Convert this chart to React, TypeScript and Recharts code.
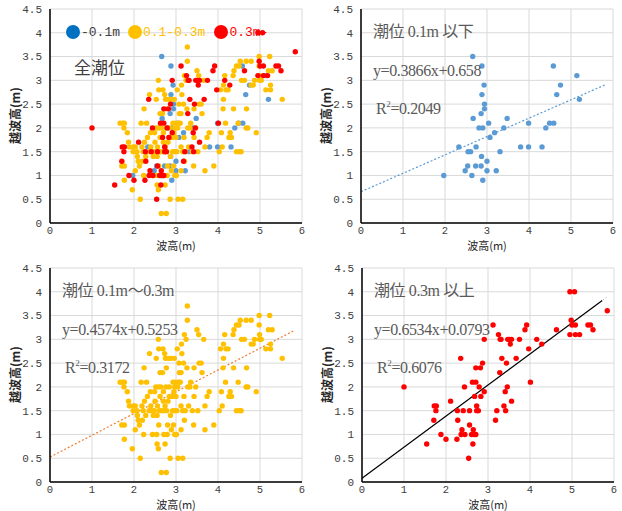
import React from 'react';
import { ScatterChart, Scatter, XAxis, YAxis, CartesianGrid, ReferenceLine } from 'recharts';

// tide <= 0.1m
const lowTide: [number, number][] = [
  [1.97, 1.0], [2.33, 1.6], [2.48, 1.1], [2.54, 1.2], [2.55, 1.5], [2.61, 1.5], [2.64, 1.0],
  [2.66, 3.5], [2.67, 2.2], [2.73, 1.2], [2.74, 1.6], [2.81, 2.0], [2.86, 1.2], [2.86, 2.3],
  [2.87, 1.4], [2.88, 3.3], [2.88, 2.7], [2.9, 0.9], [2.9, 2.0], [2.93, 2.9], [2.94, 2.5],
  [2.94, 2.4], [3.0, 1.3], [3.0, 1.1], [3.04, 2.1], [3.07, 1.8], [3.18, 1.9], [3.22, 1.1],
  [3.31, 1.5], [3.4, 2.0], [3.48, 2.2], [3.8, 1.6], [3.99, 1.6], [3.99, 2.1], [4.31, 1.6],
  [4.4, 2.0], [4.49, 2.1], [4.58, 3.3], [4.59, 2.1], [4.66, 2.7], [4.75, 2.9], [5.14, 3.1],
  [5.2, 2.6],
];

// tide 0.1m - 0.3m
const midTide: [number, number][] = [
  [1.67, 2.1], [1.73, 2.1], [1.77, 2.1], [1.76, 2.0], [1.71, 1.2], [1.77, 1.2], [1.77, 0.9],
  [1.84, 1.9], [1.87, 1.7], [1.89, 1.6], [1.96, 0.7], [1.98, 1.6], [1.98, 1.5], [2.03, 1.6],
  [2.03, 1.1], [2.07, 1.5], [2.08, 1.4], [2.1, 1.3], [2.13, 1.2], [2.15, 0.5], [2.17, 2.1],
  [2.19, 1.6], [2.2, 1.3], [2.22, 1.5], [2.24, 2.4], [2.23, 1.0], [2.25, 1.7], [2.28, 1.4],
  [2.3, 2.1], [2.32, 1.8], [2.36, 1.5], [2.37, 2.7], [2.39, 1.9], [2.4, 1.6], [2.42, 1.5],
  [2.44, 1.0], [2.46, 1.4], [2.48, 1.5], [2.49, 1.9], [2.5, 1.7], [2.52, 2.0], [2.53, 2.6],
  [2.54, 1.0], [2.55, 0.8], [2.55, 1.4], [2.56, 1.6], [2.58, 0.7], [2.58, 2.0], [2.58, 3.0],
  [2.59, 2.8], [2.59, 1.2], [2.6, 1.5], [2.62, 1.8], [2.62, 2.3], [2.64, 2.0], [2.65, 0.2],
  [2.66, 1.5], [2.68, 2.3], [2.69, 2.8], [2.7, 1.7], [2.7, 1.9], [2.71, 1.0], [2.72, 1.5],
  [2.73, 2.7], [2.74, 1.6], [2.74, 0.8], [2.75, 2.6], [2.76, 2.0], [2.77, 0.2], [2.77, 2.4],
  [2.78, 1.5], [2.79, 1.0], [2.8, 1.2], [2.81, 1.7], [2.82, 2.6], [2.84, 1.8], [2.84, 2.0],
  [2.86, 0.5], [2.87, 1.4], [2.88, 2.6], [2.89, 1.1], [2.91, 1.8], [2.92, 1.5], [2.93, 2.1],
  [2.94, 1.2], [2.95, 1.9], [2.96, 2.6], [2.97, 1.5], [2.97, 1.0], [2.97, 2.0], [2.99, 2.1],
  [3.0, 1.8], [3.01, 1.0], [3.02, 1.5], [3.03, 2.8], [3.04, 2.0], [3.05, 0.5], [3.06, 2.1],
  [3.07, 2.5], [3.08, 2.3], [3.1, 2.1], [3.12, 1.1], [3.12, 1.6], [3.12, 2.3], [3.13, 2.9],
  [3.14, 2.7], [3.16, 0.5], [3.16, 1.5], [3.18, 2.5], [3.19, 1.8], [3.2, 3.1], [3.2, 1.3],
  [3.22, 1.5], [3.24, 3.0], [3.26, 2.4], [3.27, 3.4], [3.27, 3.7], [3.28, 2.0], [3.3, 1.6],
  [3.33, 2.0], [3.35, 2.1], [3.39, 1.5], [3.42, 1.2], [3.43, 2.4], [3.43, 1.8], [3.47, 2.0],
  [3.5, 3.2], [3.54, 3.1], [3.52, 1.5], [3.55, 2.5], [3.6, 2.5], [3.62, 2.3], [3.66, 3.0],
  [3.69, 1.6], [3.69, 1.1], [3.74, 1.8], [3.79, 1.9], [3.9, 1.2], [4.03, 1.5], [4.06, 2.8],
  [4.08, 1.9], [4.1, 1.6], [4.12, 2.4], [4.13, 2.6], [4.13, 2.9], [4.16, 3.1], [4.18, 2.1],
  [4.19, 2.8], [4.24, 2.8], [4.26, 1.8], [4.29, 1.9], [4.32, 1.8], [4.36, 3.1], [4.37, 2.4],
  [4.38, 3.2], [4.44, 1.5], [4.44, 3.3], [4.48, 2.1], [4.5, 3.3], [4.51, 1.5], [4.53, 3.4],
  [4.55, 1.5], [4.56, 3.0], [4.63, 3.0], [4.67, 3.4], [4.67, 2.0], [4.68, 2.4], [4.71, 2.0],
  [4.79, 3.4], [4.79, 2.9], [4.84, 2.9], [4.87, 3.0], [4.91, 1.9], [4.99, 3.0], [4.99, 3.1],
  [4.98, 3.5], [4.98, 3.3], [5.03, 3.0], [5.14, 2.8], [5.2, 3.2], [5.23, 3.5], [5.25, 2.9],
  [5.25, 2.8], [5.29, 3.2], [5.53, 2.6],
];

// tide >= 0.3m
const highTide: [number, number][] = [
  [1.0, 2.0], [1.54, 0.8], [1.71, 1.3], [1.72, 1.6], [1.77, 1.6], [1.76, 1.5], [1.88, 1.0],
  [2.0, 0.9], [2.11, 1.7], [2.26, 0.9], [2.27, 1.5], [2.28, 1.3], [2.35, 2.6], [2.36, 1.0],
  [2.38, 1.1], [2.41, 1.5], [2.44, 2.0], [2.45, 1.0], [2.54, 0.5], [2.56, 1.2], [2.56, 1.5],
  [2.61, 1.0], [2.63, 2.1], [2.64, 0.8], [2.65, 1.1], [2.67, 1.0], [2.68, 1.8], [2.71, 2.1],
  [2.71, 1.0], [2.71, 2.4], [2.73, 1.6], [2.73, 1.5], [2.77, 1.5], [2.79, 2.0], [2.82, 2.4],
  [2.83, 1.8], [2.87, 2.5], [2.91, 3.0], [2.91, 1.9], [3.12, 3.3], [3.18, 1.3], [3.21, 1.5],
  [3.25, 3.1], [3.28, 2.3], [3.29, 3.0], [3.31, 3.0], [3.33, 2.6], [3.38, 1.6], [3.41, 1.9],
  [3.42, 1.5], [3.44, 2.5], [3.46, 2.0], [3.47, 3.0], [3.51, 3.0], [3.53, 2.9], [3.56, 3.0],
  [3.56, 1.7], [3.67, 2.6], [3.75, 3.0], [3.88, 3.2], [3.92, 3.3], [3.97, 2.8], [4.01, 2.1],
  [4.16, 3.0], [4.28, 2.9], [4.63, 3.2], [4.95, 4.0], [4.95, 3.1], [4.98, 3.4], [5.0, 3.3],
  [5.06, 4.0], [5.08, 3.1], [5.08, 3.3], [5.18, 3.1], [5.38, 3.3], [5.44, 3.3], [5.5, 3.2],
  [5.84, 3.6],
];

const xTicks = [0, 1, 2, 3, 4, 5, 6];
const yTicks = [0, 0.5, 1, 1.5, 2, 2.5, 3, 3.5, 4, 4.5];

const lowFit = { slope: 0.3866, intercept: 0.658, end: 5.83 };
const midFit = { slope: 0.4574, intercept: 0.5253, end: 5.82 };
const highFit = { slope: 0.6534, intercept: 0.0793, end: 5.85, solidEnd: 5.72 };

const BLUE = '#5B9BD5';
const YELLOW = '#FFC000';
const RED = '#FF0000';
const TEXT = '#595959';

const W = 311;
const H = 252;
const PLOT_TOP = 9;
const PLOT_BOTTOM = 223;
const PLOT_LEFT = 50;
const PLOT_RIGHT = 302;

const toPts = (arr: [number, number][]) => arr.map(([x, y]) => ({ x, y }));

const dot = (fill: string) => (props: any) => (
  <circle cx={props.cx} cy={props.cy} r={2.7} fill={fill} />
);

const fitSeg = (f: { slope: number; intercept: number }, end: number) => [
  { x: 0, y: f.intercept },
  { x: end, y: f.slope * end + f.intercept },
];

const tickStyle = { fontFamily: '"Liberation Mono", monospace', fontSize: 11, fill: '#404040' };
const xTickStyle = { ...tickStyle, fontSize: 10.5 };
const noteStyle: React.CSSProperties = {
  position: 'absolute',
  fontFamily: '"Liberation Serif", "Noto Sans CJK JP", serif',
  fontSize: 16,
  letterSpacing: -0.4,
  color: TEXT,
  whiteSpace: 'nowrap',
  lineHeight: 1,
};

function Panel({ left, top, children, overlay }: { left: number; top: number; children: React.ReactNode; overlay?: React.ReactNode }) {
  return (
    <div style={{ position: 'absolute', left, top, width: W, height: H }}>
      <ScatterChart width={W} height={H} margin={{ top: PLOT_TOP, right: W - PLOT_RIGHT, bottom: 0, left: 0 }}>
        <CartesianGrid stroke="#D9D9D9" strokeWidth={1} />
        <XAxis
          type="number"
          dataKey="x"
          domain={[0, 6]}
          ticks={xTicks}
          height={H - PLOT_BOTTOM}
          tickLine={false}
          axisLine={{ stroke: '#000', strokeWidth: 1.5 }}
          tick={xTickStyle}
          tickSize={0}
          tickMargin={4}
          interval={0}
        />
        <YAxis
          type="number"
          dataKey="y"
          domain={[0, 4.5]}
          ticks={yTicks}
          width={PLOT_LEFT}
          tickLine={false}
          axisLine={{ stroke: '#000', strokeWidth: 1.5 }}
          tick={tickStyle}
          interval={0}
        />
        {children}
      </ScatterChart>
      <div
        style={{
          position: 'absolute',
          left: (PLOT_LEFT + PLOT_RIGHT) / 2 - 30,
          top: PLOT_BOTTOM + 17,
          width: 60,
          textAlign: 'center',
          fontFamily: '"Noto Sans CJK JP", sans-serif',
          fontSize: 11,
          color: '#262626',
          lineHeight: 1,
        }}
      >
        波高(m)
      </div>
      <div
        style={{
          position: 'absolute',
          left: 15 - 35,
          top: (PLOT_TOP + PLOT_BOTTOM) / 2 - 7,
          width: 70,
          textAlign: 'center',
          transform: 'rotate(-90deg)',
          fontFamily: '"Noto Sans CJK JP", sans-serif',
          fontSize: 12,
          fontWeight: 700,
          color: '#262626',
          lineHeight: 1.1,
        }}
      >
        越波高(m)
      </div>
      {overlay}
    </div>
  );
}

function Notes({ title, eq, r2 }: { title: string; eq: string; r2: string }) {
  return (
    <>
      <div style={{ ...noteStyle, left: 62, top: 24 }}>{title}</div>
      <div style={{ ...noteStyle, left: 62, top: 63 }}>{eq}</div>
      <div style={{ ...noteStyle, left: 65, top: 100 }}>
        R<sup style={{ fontSize: 9, verticalAlign: 7 }}>2</sup>={r2}
      </div>
    </>
  );
}

const legendItems = [
  { label: '-0.1m', marker: '#0070C0', color: '#404040' },
  { label: '0.1-0.3m', marker: YELLOW, color: YELLOW },
  { label: '0.3m-', marker: RED, color: RED },
];

export default function App() {
  return (
    <div style={{ position: 'absolute', left: 0, top: 0, width: 622, height: 511, background: '#fff' }}>
      <Panel
        left={0}
        top={0}
        overlay={
          <>
            <div style={{ position: 'absolute', left: 66, top: 25, display: 'flex', alignItems: 'center' }}>
              {legendItems.map((it, i) => (
                <div key={i} style={{ display: 'flex', alignItems: 'center', marginRight: i === 0 ? 8 : 9 }}>
                  <span style={{ width: 14, height: 14, borderRadius: 7, background: it.marker, display: 'inline-block' }} />
                  <span
                    style={{
                      fontFamily: '"Liberation Mono", monospace',
                      fontSize: 13,
                      color: it.color,
                      marginLeft: 1,
                      lineHeight: 1,
                    }}
                  >
                    {it.label}
                  </span>
                </div>
              ))}
            </div>
            <div
              style={{
                position: 'absolute',
                left: 74,
                top: 58,
                fontFamily: '"Noto Sans CJK JP", sans-serif',
                fontSize: 17,
                color: '#404040',
                lineHeight: 1,
              }}
            >
              全潮位
            </div>
          </>
        }
      >
        <Scatter data={toPts(lowTide)} shape={dot(BLUE)} isAnimationActive={false} />
        <Scatter data={toPts(midTide)} shape={dot(YELLOW)} isAnimationActive={false} />
        <Scatter data={toPts(highTide)} shape={dot(RED)} isAnimationActive={false} />
      </Panel>

      <Panel left={311} top={0} overlay={<Notes title="潮位 0.1m 以下" eq="y=0.3866x+0.658" r2="0.2049" />}>
        <ReferenceLine segment={fitSeg(lowFit, lowFit.end)} stroke={BLUE} strokeWidth={1.2} strokeDasharray="2 2" />
        <Scatter data={toPts(lowTide)} shape={dot(BLUE)} isAnimationActive={false} />
      </Panel>

      <Panel left={0} top={259} overlay={<Notes title="潮位 0.1m〜0.3m" eq="y=0.4574x+0.5253" r2="0.3172" />}>
        <Scatter data={toPts(midTide)} shape={dot(YELLOW)} isAnimationActive={false} />
        <ReferenceLine segment={fitSeg(midFit, midFit.end)} stroke="#ED7D31" strokeWidth={1.2} strokeDasharray="2 2" />
      </Panel>

      <Panel left={312} top={259} overlay={<Notes title="潮位 0.3m 以上" eq="y=0.6534x+0.0793" r2="0.6076" />}>
        <ReferenceLine segment={fitSeg(highFit, highFit.end)} stroke="#A6A6A6" strokeWidth={1} strokeDasharray="1 2" />
        <Scatter data={toPts(highTide)} shape={dot(RED)} isAnimationActive={false} />
        <ReferenceLine segment={fitSeg(highFit, highFit.solidEnd)} stroke="#000" strokeWidth={1.2} />
      </Panel>
    </div>
  );
}
